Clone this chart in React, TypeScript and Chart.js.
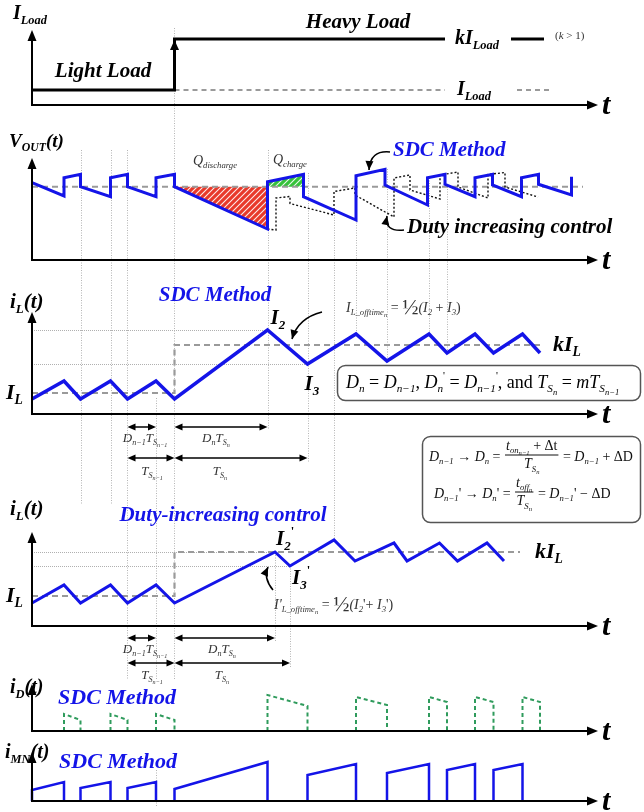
import React, { useEffect, useRef } from "react";
import { Chart, registerables } from "chart.js";
Chart.register(...registerables);

// ---------- layout (not data) ----------
const W = 644, H = 812;
const X0 = 32, XU = 5, YU = 10;
const SERIF = "'Liberation Serif','Times New Roman',serif";
const BLUE = "#1414e8";
const GREEN = "#2f9b5c";
const GRAY = "#9a9a9a";
const BASE: Record<string, number> = { load: 105, vout: 260, ils: 414, ild: 626, id: 731, imn: 801 };
const TOP: Record<string, number> = { load: 30, vout: 158, ils: 312, ild: 532, id: 684, imn: 752 };
const AXIS_END_T = 113.2;

// ---------- data (time in µs-like units, values in panel units) ----------
// Panel 1: load step
const LOAD_STEP_T = 28.5;
const LOAD_END_T = 82.6;
const LOAD_LIGHT = 1.5;
const LOAD_HEAVY = 6.6;
const LOAD_KEY_T = [95.8, 102.4];
const LOAD_KEY2_T = [97.0, 104.2];

// Panel 2: output voltage
const VOUT_REF = 7.33;
const VOUT_REF_END = 110.2;
const VOUT_SDC_T = [0, 6.4, 6.4, 9.7, 9.7, 15.7, 15.7, 19.1, 19.1, 24.8, 24.8, 28.5, 28.5, 47.1, 47.1, 54.3, 54.3, 64.8, 64.8, 70.6, 70.6, 79.1, 79.1, 82.6, 82.6, 88.6, 88.6, 92.1, 92.1, 97.9, 97.9, 101.3, 101.3, 107.9, 107.9];
const VOUT_SDC_V = [7.73, 6.4, 8.23, 8.57, 7.33, 6.33, 8.23, 8.57, 7.33, 6.33, 8.23, 8.57, 7.33, 3.1, 7.83, 8.57, 6.33, 4.0, 8.43, 9.07, 7.5, 5.5, 8.23, 8.57, 7.57, 6.33, 8.23, 8.57, 7.5, 6.33, 8.23, 8.57, 7.57, 6.5, 8.33];
const VOUT_DUTY_T = [47.1, 48.8, 48.8, 51.6, 51.6, 60.4, 60.4, 64.6, 64.6, 72.4, 72.4, 75.6, 75.6, 81.6, 81.6, 85.2, 85.2, 91.2, 91.2, 94.6, 94.6, 101.2];
const VOUT_DUTY_V = [3.1, 3.0, 6.2, 6.35, 5.65, 4.5, 6.85, 7.2, 6.5, 4.3, 8.2, 8.5, 7.0, 6.1, 8.5, 8.8, 7.3, 6.2, 8.55, 8.75, 7.3, 6.3];
const Q_DIS_T = [28.5, 47.1, 47.1];
const Q_DIS_V = [7.33, 7.33, 3.1];
const Q_CHG_T = [47.1, 47.1, 54.3, 54.3];
const Q_CHG_V = [7.33, 7.83, 8.57, 7.33];

// Panel 3: inductor current, SDC method
const IL_SDC_T = [0, 6.4, 9.7, 15.7, 19.1, 24.8, 28.5, 47.1, 55.1, 64.8, 71.0, 79.4, 83.0, 88.6, 92.3, 98.1, 101.6];
const IL_SDC_V = [1.5, 3.3, 1.5, 3.3, 1.5, 3.3, 1.5, 8.4, 5.0, 8.0, 5.3, 8.0, 6.1, 8.0, 6.1, 8.0, 6.1];
const IL_SDC_LEVEL = [2.1, 6.9];
const IL_SDC_LEVEL_END = 102.2;

// Panel 4: inductor current, duty-increasing control
const IL_DUTY_T = [0, 6.4, 9.7, 15.7, 19.1, 24.8, 28.5, 48.6, 51.6, 60.4, 64.6, 72.4, 75.0, 81.5, 85.1, 91.0, 94.4];
const IL_DUTY_V = [2.3, 4.1, 2.3, 4.1, 2.3, 4.1, 2.3, 7.4, 6.0, 8.6, 6.5, 8.3, 6.5, 8.3, 6.5, 8.3, 6.5];
const IL_DUTY_LEVEL = [3.0, 7.4];
const IL_DUTY_LEVEL_END = 97.6;

// Panel 5: diode current pulses
const ID_START = [6.4, 15.7, 24.8, 47.1, 64.8, 79.4, 88.6, 98.1];
const ID_END = [9.7, 19.1, 28.5, 55.1, 71.0, 83.0, 92.3, 101.6];
const ID_H0 = [1.7, 1.7, 1.7, 3.6, 3.4, 3.4, 3.4, 3.4];
const ID_H1 = [1.1, 1.1, 1.1, 2.5, 2.6, 2.9, 2.9, 2.9];

// Panel 6: switch current pulses
const IMN_START = [0, 9.7, 19.1, 28.5, 55.1, 71.0, 83.0, 92.3];
const IMN_END = [6.4, 15.7, 24.8, 47.1, 64.8, 79.4, 88.6, 98.1];
const IMN_H0 = [1.1, 1.3, 1.3, 1.2, 2.6, 2.8, 3.1, 3.1];
const IMN_H1 = [1.9, 1.9, 1.9, 3.9, 3.7, 3.7, 3.7, 3.7];

// vertical guide lines: time, top px, bottom px
const GUIDES: [number, number, number][] = [
  [9.7, 150, 505], [15.7, 150, 505], [19.1, 150, 680], [24.8, 398, 680], [24.8, 770, 806],
  [28.5, 28, 680], [47.1, 150, 430], [48.6, 555, 642], [51.6, 566, 668], [55.1, 173, 462],
  [60.4, 215, 540], [64.8, 175, 334], [71.0, 169, 360], [79.4, 178, 334], [83.0, 184, 353],
];

// ---------- helpers ----------
const pts = (T: number[], V: number[]) => T.map((t, i) => ({ x: t, y: V[i] }));
function pulses(s: number[], e: number[], h0: number[], h1: number[]) {
  const out: any[] = [];
  s.forEach((t, i) => {
    out.push({ x: t, y: 0 }, { x: t, y: h0[i] }, { x: e[i], y: h1[i] }, { x: e[i], y: 0 }, { x: e[i], y: null });
  });
  return out;
}
function yScale(base: number) {
  return { type: "linear", display: false, min: -(H - base) / YU, max: base / YU };
}
function hatch(color: string) {
  const c = document.createElement("canvas");
  c.width = 6; c.height = 6;
  const g = c.getContext("2d")!;
  g.fillStyle = color; g.fillRect(0, 0, 6, 6);
  g.strokeStyle = "rgba(255,255,255,0.9)"; g.lineWidth = 1.1;
  g.beginPath();
  g.moveTo(0, 6); g.lineTo(6, 0);
  g.moveTo(-3, 3); g.lineTo(3, -3);
  g.moveTo(3, 9); g.lineTo(9, 3);
  g.stroke();
  return g.createPattern(c, "repeat");
}

type Seg = [string, number?, boolean?];
const LV: Record<number, [number, number]> = { 0: [1, 0], 1: [0.62, 0.32], 2: [0.47, 0.52], [-1]: [0.6, -0.4], 3: [1.55, 0.02] };
interface TO { size: number; bold?: boolean; italic?: boolean; color?: string }
function font(o: TO, k: number, up?: boolean) {
  return `${o.italic === false || up ? "" : "italic "}${o.bold ? "bold " : ""}${(o.size * k).toFixed(1)}px ${SERIF}`;
}
function mw(ctx: CanvasRenderingContext2D, segs: Seg[], o: TO) {
  let w = 0;
  for (const [s, l = 0, up] of segs) { ctx.font = font(o, LV[l][0], up); w += ctx.measureText(s).width; }
  return w;
}
function rt(ctx: CanvasRenderingContext2D, x: number, y: number, segs: Seg[], o: TO, align = "left") {
  const w = mw(ctx, segs, o);
  let cx = align === "center" ? x - w / 2 : align === "right" ? x - w : x;
  ctx.textAlign = "left"; ctx.textBaseline = "middle"; ctx.fillStyle = o.color || "#000";
  for (const [s, l = 0, up] of segs) {
    const [k, d] = LV[l];
    ctx.font = font(o, k, up);
    ctx.fillText(s, cx, y + d * o.size);
    cx += ctx.measureText(s).width;
  }
  return cx;
}
function frac(ctx: CanvasRenderingContext2D, x: number, y: number, num: Seg[], den: Seg[], o: TO) {
  const w = Math.max(mw(ctx, num, o), mw(ctx, den, o)) + 4;
  rt(ctx, x + w / 2, y - o.size * 0.62, num, o, "center");
  rt(ctx, x + w / 2, y + o.size * 0.7, den, o, "center");
  ctx.strokeStyle = o.color || "#000"; ctx.lineWidth = 1; ctx.setLineDash([]);
  ctx.beginPath(); ctx.moveTo(x + 1, y); ctx.lineTo(x + w - 1, y); ctx.stroke();
  return x + w;
}
function head(ctx: CanvasRenderingContext2D, x: number, y: number, ang: number, len = 10, half = 4) {
  ctx.save();
  ctx.translate(x, y); ctx.rotate(ang);
  ctx.beginPath(); ctx.moveTo(0, 0); ctx.lineTo(-len, -half); ctx.lineTo(-len, half); ctx.closePath();
  ctx.fill();
  ctx.restore();
}
function curve(ctx: CanvasRenderingContext2D, x1: number, y1: number, cx: number, cy: number, x2: number, y2: number) {
  ctx.strokeStyle = "#000"; ctx.fillStyle = "#000"; ctx.lineWidth = 1.6; ctx.setLineDash([]);
  ctx.beginPath(); ctx.moveTo(x1, y1); ctx.quadraticCurveTo(cx, cy, x2, y2); ctx.stroke();
  head(ctx, x2, y2, Math.atan2(y2 - cy, x2 - cx), 9, 4);
}
function dim(ctx: CanvasRenderingContext2D, x1: number, x2: number, y: number) {
  ctx.strokeStyle = "#000"; ctx.fillStyle = "#000"; ctx.lineWidth = 1.5; ctx.setLineDash([]);
  ctx.beginPath(); ctx.moveTo(x1 + 4, y); ctx.lineTo(x2 - 4, y); ctx.stroke();
  head(ctx, x1, y, Math.PI, 8, 3.5);
  head(ctx, x2, y, 0, 8, 3.5);
}

const overlay = {
  id: "overlay",
  beforeDraw(chart: any) {
    const ctx = chart.ctx;
    ctx.save(); ctx.fillStyle = "#fff"; ctx.fillRect(0, 0, W, H); ctx.restore();
  },
  beforeDatasetsDraw(chart: any) {
    const ctx: CanvasRenderingContext2D = chart.ctx;
    const px = (t: number) => chart.scales.x.getPixelForValue(t);
    const py = (id: string, v: number) => chart.scales[id].getPixelForValue(v);
    ctx.save();
    ctx.strokeStyle = "#b5b5b5"; ctx.lineWidth = 1; ctx.setLineDash([1, 1.5]);
    for (const [t, a, b] of GUIDES) {
      const x = Math.round(px(t)) + 0.5;
      ctx.beginPath(); ctx.moveTo(x, a); ctx.lineTo(x, b); ctx.stroke();
    }
    // thin level lines at I2/I3 values
    ctx.strokeStyle = "#b0b0b0"; ctx.setLineDash([1, 1]);
    const hl = (id: string, v: number, t2: number) => {
      const y = Math.round(py(id, v)) + 0.5;
      ctx.beginPath(); ctx.moveTo(px(0), y); ctx.lineTo(px(t2), y); ctx.stroke();
    };
    hl("y_ils", IL_SDC_V[7], IL_SDC_T[7]);
    hl("y_ils", IL_SDC_V[8], IL_SDC_T[8]);
    hl("y_ild", IL_DUTY_V[7], IL_DUTY_T[7]);
    hl("y_ild", IL_DUTY_V[8], IL_DUTY_T[8]);
    ctx.restore();
  },
  afterDatasetsDraw(chart: any) {
    const ctx: CanvasRenderingContext2D = chart.ctx;
    const px = (t: number) => chart.scales.x.getPixelForValue(t);
    const py = (id: string, v: number) => chart.scales[id].getPixelForValue(v);
    ctx.save();
    // axes
    const x0 = px(0), xe = px(AXIS_END_T);
    for (const k of Object.keys(BASE)) {
      const b = BASE[k], t = TOP[k];
      ctx.strokeStyle = "#000"; ctx.fillStyle = "#000"; ctx.lineWidth = 2; ctx.setLineDash([]);
      ctx.beginPath(); ctx.moveTo(x0, b); ctx.lineTo(x0, t + 8); ctx.moveTo(x0 - 1, b); ctx.lineTo(xe - 8, b); ctx.stroke();
      head(ctx, x0, t, -Math.PI / 2, 11, 4.5);
      head(ctx, xe, b, 0, 11, 4.5);
      rt(ctx, xe + 4, b + 1, [["t"]], { size: 30, bold: true });
    }
    // step arrow head
    ctx.fillStyle = "#000";
    head(ctx, px(LOAD_STEP_T), py("y_load", LOAD_HEAVY) + 1, -Math.PI / 2, 10, 4.5);

    const B = { bold: true };
    // Panel 1 text
    rt(ctx, 13, 14, [["I"], ["Load", 1]], { size: 20, ...B });
    rt(ctx, 358, 23, [["Heavy Load"]], { size: 21, ...B }, "center");
    rt(ctx, 103, 72, [["Light Load"]], { size: 21, ...B }, "center");
    const yH = py("y_load", LOAD_HEAVY), yL = py("y_load", LOAD_LIGHT);
    rt(ctx, 455, yH, [["kI"], ["Load", 1]], { size: 20, ...B });
    rt(ctx, 555, yH - 3, [["(", 0, true], ["k"], [" > 1)", 0, true]], { size: 11, color: "#333" });
    rt(ctx, 457, yL, [["I"], ["Load", 1]], { size: 20, ...B });

    // Panel 2 text
    rt(ctx, 9, 142, [["V"], ["OUT", 1], ["(t)"]], { size: 19, ...B });
    rt(ctx, 193, 161, [["Q"], ["discharge", 1]], { size: 14, color: "#333" });
    rt(ctx, 273, 160, [["Q"], ["charge", 1]], { size: 14, color: "#333" });
    rt(ctx, 393, 151, [["SDC Method"]], { size: 21, ...B, color: BLUE });
    rt(ctx, 407, 228, [["Duty increasing control"]], { size: 21, ...B });
    curve(ctx, 390, 152, 370, 150, 369, 170);
    curve(ctx, 404, 230, 384, 232, 387, 216);

    // Panel 3 text
    rt(ctx, 10, 303, [["i"], ["L", 1], ["(t)"]], { size: 21, ...B });
    rt(ctx, 215, 296, [["SDC Method"]], { size: 21, ...B, color: BLUE }, "center");
    rt(ctx, 6, py("y_ils", IL_SDC_LEVEL[0]), [["I"], ["L", 1]], { size: 22, ...B });
    rt(ctx, 553, py("y_ils", IL_SDC_LEVEL[1]), [["kI"], ["L", 1]], { size: 22, ...B });
    rt(ctx, px(IL_SDC_T[7]) + 3, py("y_ils", IL_SDC_V[7]) - 11, [["I"], ["2", 1]], { size: 21, ...B });
    rt(ctx, px(IL_SDC_T[8]) - 3, py("y_ils", IL_SDC_V[8]) + 21, [["I"], ["3", 1]], { size: 21, ...B });
    {
      const o = { size: 14, color: "#333" };
      let x = rt(ctx, 346, 308, [["I"], ["L_offtime", 1], ["n", 2], [" = ", 0, true]], o);
      rt(ctx, x, 308, [["½", 3, true], ["(I"], ["2", 1], [" + ", 0, true], ["I"], ["3", 1], [")", 0, true]], o);
    }
    curve(ctx, 322, 312, 298, 318, 292, 339);
    // box 1
    ctx.strokeStyle = "#555"; ctx.lineWidth = 1.5; ctx.setLineDash([]);
    ctx.beginPath(); (ctx as any).roundRect(337.5, 365.5, 303, 35, 8); ctx.stroke();
    rt(ctx, 346, 383, [["D"], ["n", 1], [" = ", 0, true], ["D"], ["n−1", 1], [", ", 0, true], ["D"], ["n", 1], ["'", -1, true], [" = ", 0, true], ["D"], ["n−1", 1], ["'", -1, true], [", and ", 0, true], ["T"], ["S", 1], ["n", 2], [" = ", 0, true], ["mT"], ["S", 1], ["n−1", 2]], { size: 18 });
    // box 2
    ctx.strokeStyle = "#555"; ctx.lineWidth = 1.5;
    ctx.beginPath(); (ctx as any).roundRect(422.5, 436.5, 218, 86, 8); ctx.stroke();
    {
      const o = { size: 14, color: "#111" };
      let x = rt(ctx, 429, 457, [["D"], ["n−1", 1], [" → ", 0, true], ["D"], ["n", 1], [" = ", 0, true]], o);
      x = frac(ctx, x, 455, [["t"], ["on", 1], ["n−1", 2], [" + Δt", 0, true]], [["T"], ["S", 1], ["n", 2]], o);
      rt(ctx, x, 457, [[" = ", 0, true], ["D"], ["n−1", 1], [" + ΔD", 0, true]], o);
      x = rt(ctx, 434, 494, [["D"], ["n−1", 1], ["' → ", 0, true], ["D"], ["n", 1], ["' = ", 0, true]], o);
      x = frac(ctx, x, 492, [["t"], ["off", 1], ["n", 2]], [["T"], ["S", 1], ["n", 2]], o);
      rt(ctx, x, 494, [[" = ", 0, true], ["D"], ["n−1", 1], ["' − ΔD", 0, true]], o);
    }
    // dimension arrows panel 3
    const lo = { size: 13, color: "#333" };
    dim(ctx, px(19.1), px(24.8), 427);
    dim(ctx, px(28.5), px(IL_SDC_T[7]), 427);
    rt(ctx, 145, 439, [["D"], ["n−1", 1], ["T"], ["S", 1], ["n−1", 2]], lo, "center");
    rt(ctx, 216, 439, [["D"], ["n", 1], ["T"], ["S", 1], ["n", 2]], lo, "center");
    dim(ctx, px(19.1), px(28.5), 458);
    dim(ctx, px(28.5), px(IL_SDC_T[8]), 458);
    rt(ctx, 152, 472, [["T"], ["S", 1], ["n−1", 2]], lo, "center");
    rt(ctx, 220, 472, [["T"], ["S", 1], ["n", 2]], lo, "center");

    // Panel 4 text
    rt(ctx, 10, 510, [["i"], ["L", 1], ["(t)"]], { size: 21, ...B });
    rt(ctx, 223, 516, [["Duty-increasing control"]], { size: 21, ...B, color: BLUE }, "center");
    rt(ctx, 6, py("y_ild", IL_DUTY_LEVEL[0]), [["I"], ["L", 1]], { size: 22, ...B });
    rt(ctx, 535, py("y_ild", IL_DUTY_LEVEL[1]), [["kI"], ["L", 1]], { size: 22, ...B });
    rt(ctx, px(IL_DUTY_T[7]) + 1, py("y_ild", IL_DUTY_V[7]) - 12, [["I"], ["2", 1], ["'", -1, true]], { size: 21, ...B });
    rt(ctx, px(IL_DUTY_T[8]) + 2, py("y_ild", IL_DUTY_V[8]) + 13, [["I"], ["3", 1], ["'", -1, true]], { size: 21, ...B });
    {
      const o = { size: 14, color: "#333" };
      let x = rt(ctx, 274, 605, [["I'"], ["L_offtime", 1], ["n", 2], [" = ", 0, true]], o);
      rt(ctx, x, 605, [["½", 3, true], ["(I"], ["2", 1], ["'+ ", 0, true], ["I"], ["3", 1], ["')", 0, true]], o);
    }
    curve(ctx, 273, 590, 263, 578, 268, 567);
    dim(ctx, px(19.1), px(24.8), 638);
    dim(ctx, px(28.5), px(IL_DUTY_T[7]), 638);
    rt(ctx, 145, 650, [["D"], ["n−1", 1], ["T"], ["S", 1], ["n−1", 2]], lo, "center");
    rt(ctx, 222, 650, [["D"], ["n", 1], ["T"], ["S", 1], ["n", 2]], lo, "center");
    dim(ctx, px(19.1), px(28.5), 663);
    dim(ctx, px(28.5), px(IL_DUTY_T[8]), 663);
    rt(ctx, 152, 676, [["T"], ["S", 1], ["n−1", 2]], lo, "center");
    rt(ctx, 222, 676, [["T"], ["S", 1], ["n", 2]], lo, "center");

    // Panel 5/6 text
    rt(ctx, 10, 688, [["i"], ["D", 1], ["(t)"]], { size: 20, ...B });
    rt(ctx, 117, 698, [["SDC Method"]], { size: 22, ...B, color: BLUE }, "center");
    rt(ctx, 5, 753, [["i"], ["MN", 1], ["(t)"]], { size: 20, ...B });
    rt(ctx, 118, 762, [["SDC Method"]], { size: 22, ...B, color: BLUE }, "center");
    ctx.restore();
  },
};

function line(id: string, data: any[], color: string, width: number, dash: number[] = [], order = 5) {
  return {
    type: "line", data, yAxisID: id, xAxisID: "x", borderColor: color, borderWidth: width,
    borderDash: dash, pointRadius: 0, fill: false, tension: 0, spanGaps: false, order,
    borderJoinStyle: "miter", borderCapStyle: "butt",
  };
}

export default function App() {
  const ref = useRef<HTMLCanvasElement>(null);
  useEffect(() => {
    if (!ref.current) return;
    const datasets: any[] = [
      // panel 1
      line("y_load", [{ x: LOAD_STEP_T, y: LOAD_LIGHT }, { x: LOAD_END_T, y: LOAD_LIGHT }], GRAY, 2, [5, 4], 9),
      line("y_load", [{ x: 0, y: LOAD_LIGHT }, { x: LOAD_STEP_T, y: LOAD_LIGHT }, { x: LOAD_STEP_T, y: LOAD_HEAVY }, { x: LOAD_END_T, y: LOAD_HEAVY }], "#000", 3, [], 2),
      line("y_load", LOAD_KEY_T.map((t) => ({ x: t, y: LOAD_HEAVY })), "#000", 3, [], 2),
      line("y_load", LOAD_KEY2_T.map((t) => ({ x: t, y: LOAD_LIGHT })), GRAY, 2, [5, 4], 2),
      // panel 2
      { ...line("y_vout", pts(Q_DIS_T, Q_DIS_V), "rgba(0,0,0,0)", 0, [], 8), fill: "shape", backgroundColor: hatch("#e8392a") },
      { ...line("y_vout", pts(Q_CHG_T, Q_CHG_V), "rgba(0,0,0,0)", 0, [], 8), fill: "shape", backgroundColor: hatch("#35c23a") },
      line("y_vout", [{ x: 0, y: VOUT_REF }, { x: VOUT_REF_END, y: VOUT_REF }], GRAY, 2, [6, 4], 7),
      line("y_vout", pts(VOUT_DUTY_T, VOUT_DUTY_V), "#111", 1.4, [2, 2], 3),
      line("y_vout", pts(VOUT_SDC_T, VOUT_SDC_V), BLUE, 3, [], 1),
      // panel 3
      line("y_ils", [{ x: 0, y: IL_SDC_LEVEL[0] }, { x: LOAD_STEP_T, y: IL_SDC_LEVEL[0] }, { x: LOAD_STEP_T, y: IL_SDC_LEVEL[1] }, { x: IL_SDC_LEVEL_END, y: IL_SDC_LEVEL[1] }], GRAY, 2.2, [6, 4], 7),
      line("y_ils", pts(IL_SDC_T, IL_SDC_V), BLUE, 3.5, [], 1),
      // panel 4
      line("y_ild", [{ x: 0, y: IL_DUTY_LEVEL[0] }, { x: LOAD_STEP_T, y: IL_DUTY_LEVEL[0] }, { x: LOAD_STEP_T, y: IL_DUTY_LEVEL[1] }, { x: IL_DUTY_LEVEL_END, y: IL_DUTY_LEVEL[1] }], GRAY, 2.2, [6, 4], 7),
      line("y_ild", pts(IL_DUTY_T, IL_DUTY_V), BLUE, 3, [], 1),
      // panel 5
      line("y_id", pulses(ID_START, ID_END, ID_H0, ID_H1), GREEN, 2, [4, 3], 1),
      // panel 6
      line("y_imn", pulses(IMN_START, IMN_END, IMN_H0, IMN_H1), BLUE, 2.5, [], 1),
    ];
    const chart = new Chart(ref.current, {
      type: "line",
      data: { datasets },
      options: {
        responsive: false,
        animation: false,
        events: [],
        layout: { padding: 0 },
        plugins: { legend: { display: false }, tooltip: { enabled: false }, title: { display: false } },
        scales: {
          x: { type: "linear", display: false, min: -X0 / XU, max: (W - X0) / XU },
          y_load: yScale(BASE.load),
          y_vout: yScale(BASE.vout),
          y_ils: yScale(BASE.ils),
          y_ild: yScale(BASE.ild),
          y_id: yScale(BASE.id),
          y_imn: yScale(BASE.imn),
        } as any,
      },
      plugins: [overlay],
    } as any);
    return () => chart.destroy();
  }, []);
  return (
    <div style={{ position: "absolute", left: 0, top: 0, width: W, height: H, background: "#fff" }}>
      <canvas ref={ref} width={W} height={H} style={{ display: "block" }} />
    </div>
  );
}
